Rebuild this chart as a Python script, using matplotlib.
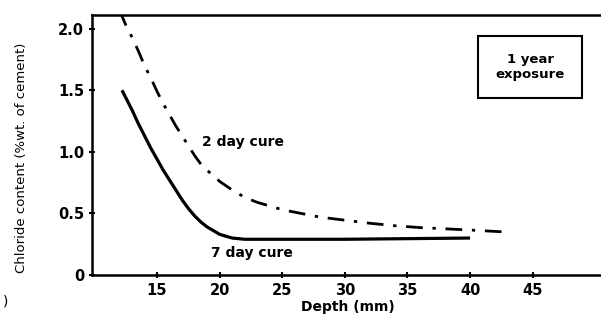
import matplotlib
matplotlib.use("Agg")
import matplotlib.pyplot as plt

# 7 day cure (solid)
depth_7 = [12.2, 12.5, 13, 13.5, 14, 14.5, 15, 15.5, 16, 16.5, 17, 17.5, 18,
           18.5, 19, 19.5, 20, 20.5, 21, 22, 25, 30, 35, 40]
chl_7 = [1.5, 1.44, 1.34, 1.23, 1.13, 1.03, 0.94, 0.85, 0.77, 0.69, 0.61, 0.54,
         0.48, 0.43, 0.39, 0.36, 0.33, 0.315, 0.30, 0.29, 0.29, 0.29, 0.295, 0.30]

# 2 day cure (dash-dot)
depth_2 = [12.0, 12.5, 13, 13.5, 14, 14.5, 15, 15.5, 16, 16.5, 17, 17.5, 18,
           18.5, 19, 20, 21, 22, 23, 24, 25, 26.5, 28, 30, 32, 34, 36, 38, 40, 42.7]
chl_2 = [2.15, 2.03, 1.93, 1.82, 1.70, 1.60, 1.49, 1.39, 1.30, 1.21, 1.13, 1.05,
         0.97, 0.90, 0.85, 0.76, 0.69, 0.63, 0.59, 0.56, 0.53, 0.50, 0.47, 0.445,
         0.42, 0.40, 0.385, 0.375, 0.365, 0.35]

xticks = [15, 20, 25, 30, 35, 40, 45]
yticks = [0, 0.5, 1.0, 1.5, 2.0]
ylabels = ["0", "0.5", "1.0", "1.5", "2.0"]

plt.rcParams['font.family'] = ['DejaVu Sans']

fig = plt.figure(figsize=(6.01, 3.22), dpi=100)
ax = fig.add_axes([0.153, 0.146, 0.85, 0.807])

ax.plot(depth_7, chl_7, color='black', lw=2.3, solid_capstyle='butt',
        solid_joinstyle='round')
ax.plot(depth_2, chl_2, color='black', lw=2.0,
        linestyle=(0, (6, 3.5, 1.2, 3.5)))

ax.set_xlim(9.8, 50.6)
ax.set_ylim(0, 2.11)
ax.spines['right'].set_visible(False)
for s in ['left', 'bottom', 'top']:
    ax.spines[s].set_linewidth(1.8)

ax.set_xticks(xticks)
ax.set_yticks(yticks)
ax.set_yticklabels(ylabels)
ax.tick_params(axis='both', direction='inout', length=4, width=1.5,
               labelsize=10.5)
for lab in ax.get_xticklabels() + ax.get_yticklabels():
    lab.set_fontweight('bold')

ax.set_xlabel("Depth (mm)", fontsize=10, fontweight='bold', labelpad=2)
ax.set_ylabel("Chloride content (%wt. of cement)", fontsize=9.5)
ax.yaxis.set_label_coords(-0.125, 0.45)

ax.text(18.6, 1.08, "2 day cure", fontsize=10, fontweight='bold', va='center')
ax.text(19.3, 0.18, "7 day cure", fontsize=10, fontweight='bold', va='center')
ax.text(44.8, 1.69, "1 year\nexposure", fontsize=9.5, fontweight='bold',
        ha='center', va='center', linespacing=1.15,
        bbox=dict(boxstyle='square,pad=1.3', fc='white', ec='black', lw=1.5))

fig.text(0.005, 0.05, ")", fontsize=10)

fig.savefig("out.png", dpi=100)
